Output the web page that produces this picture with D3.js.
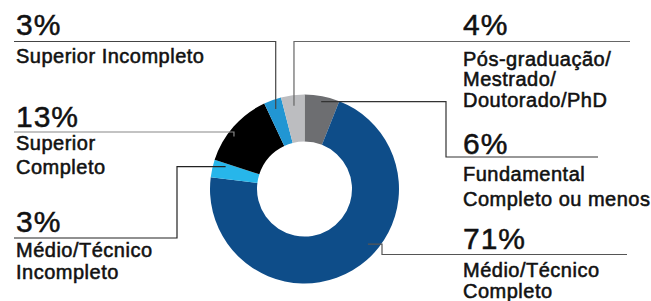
<!DOCTYPE html>
<html>
<head>
<meta charset="utf-8">
<script src="https://cdn.jsdelivr.net/npm/d3@7"></script>
<style>
    body { margin: 0; background: #fff; }
    svg text { font-family: "Liberation Sans", Arial, sans-serif; fill: #111; stroke: #111; }
</style>
</head>
<body>
<div id="vis-donut"></div>
<script>
// data, in clockwise order from 12 o'clock
var categories = ["Fundamental Completo ou menos", "Médio/Técnico Completo", "Médio/Técnico Incompleto",
                  "Superior Completo", "Superior Incompleto", "Pós-graduação/Mestrado/Doutorado/PhD"];
var values = [6, 71, 3, 13, 3, 4];
var pctLabels = ["6%", "71%", "3%", "13%", "3%", "4%"];
var nameLines = [["Fundamental", "Completo ou menos"],
                 ["Médio/Técnico", "Completo"],
                 ["Médio/Técnico", "Incompleto"],
                 ["Superior", "Completo"],
                 ["Superior Incompleto"],
                 ["Pós-graduação/", "Mestrado/", "Doutorado/PhD"]];
var colors = ["#6d6e71", "#0e4d89", "#27b6ea", "#000000", "#2196d3", "#bcbdc0"];

var width = 651, height = 301;
var cx = 304.5, cy = 189, outerR = 94.5, innerR = 47.5;

// label layout: text position, underline, elbow, and where the leader ends inside the slice
var layout = [
    {x: 463, pctY: 153.5, lineY: 157, nameY: 181, lh: 25, ux: [446, 598], elbow: 446, f: 0.5, r: 89, line: "#333"},
    {x: 463, pctY: 248.5, lineY: 254.5, nameY: 277, lh: 21, ux: [382, 627], elbow: 382, f: 0.428, r: 84, line: "#555"},
    {x: 16, pctY: 232, lineY: 238, nameY: 257, lh: 22, ux: [14, 177], elbow: 177, f: 0.8, r: 82, line: "#222"},
    {x: 16, pctY: 127, lineY: 132, nameY: 149.5, lh: 24, ux: [14, null], elbow: null, f: 0.4, r: 88, line: "#888"},
    {x: 16, pctY: 34.5, lineY: 41.5, nameY: 62.5, lh: 20, ux: [14, null], elbow: null, f: 0.5, r: 85, line: "#444"},
    {x: 463, pctY: 34.5, lineY: 41.5, nameY: 66, lh: 20.3, ux: [null, 630], elbow: null, f: 0.5, r: 84, line: "#666"}
];

var svg = d3.select("#vis-donut")
            .append("svg")
                .attr("width", width)
                .attr("height", height);

var pie = d3.pie().sort(null).value(function(d) { return d; });
var arcs = pie(values);

var arc = d3.arc().innerRadius(innerR).outerRadius(outerR);

var g = svg.append("g")
            .attr("transform", "translate(" + cx + "," + cy + ")");

g.selectAll("path")
    .data(arcs)
    .enter()
    .append("path")
        .attr("d", arc)
        .style("fill", function(d, i) { return colors[i]; });

// point inside a slice where the leader line stops
function anchorOf(d, i) {
    var L = layout[i];
    var a = d.startAngle + L.f * (d.endAngle - d.startAngle);
    return [cx + L.r * Math.sin(a), cy - L.r * Math.cos(a)];
}

// leader lines
var leaders = svg.append("g").attr("fill", "none");
arcs.forEach(function(d, i) {
    var L = layout[i];
    var p = anchorOf(d, i);
    var pts;
    if (L.elbow !== null) {
        // underline -> elbow -> up/down to anchor height -> across to anchor
        var far = (L.ux[0] === L.elbow) ? L.ux[1] : L.ux[0];
        pts = [[far, L.lineY], [L.elbow, L.lineY], [L.elbow, p[1]], p];
    } else {
        // underline runs to the anchor's x, then drops down into the slice
        var start = L.ux[0] !== null ? L.ux[0] : L.ux[1];
        pts = [[start, L.lineY], [p[0], L.lineY], p];
    }
    leaders.append("path")
        .attr("d", d3.line()(pts))
        .attr("stroke", L.line)
        .attr("stroke-width", 1.2);
});

// labels (a thin stroke gives the medium weight of the original face)
arcs.forEach(function(d, i) {
    var L = layout[i];
    svg.append("text")
        .attr("x", L.x)
        .attr("y", L.pctY)
        .style("font-size", "30px")
        .style("letter-spacing", "1px")
        .style("stroke-width", 0.5)
        .text(pctLabels[i]);

    nameLines[i].forEach(function(t, k) {
        svg.append("text")
            .attr("x", L.x)
            .attr("y", L.nameY + k * L.lh)
            .style("font-size", "20px")
            .style("letter-spacing", "0.5px")
            .style("stroke-width", 0.55)
            .text(t);
    });
});
</script>
</body>
</html>
